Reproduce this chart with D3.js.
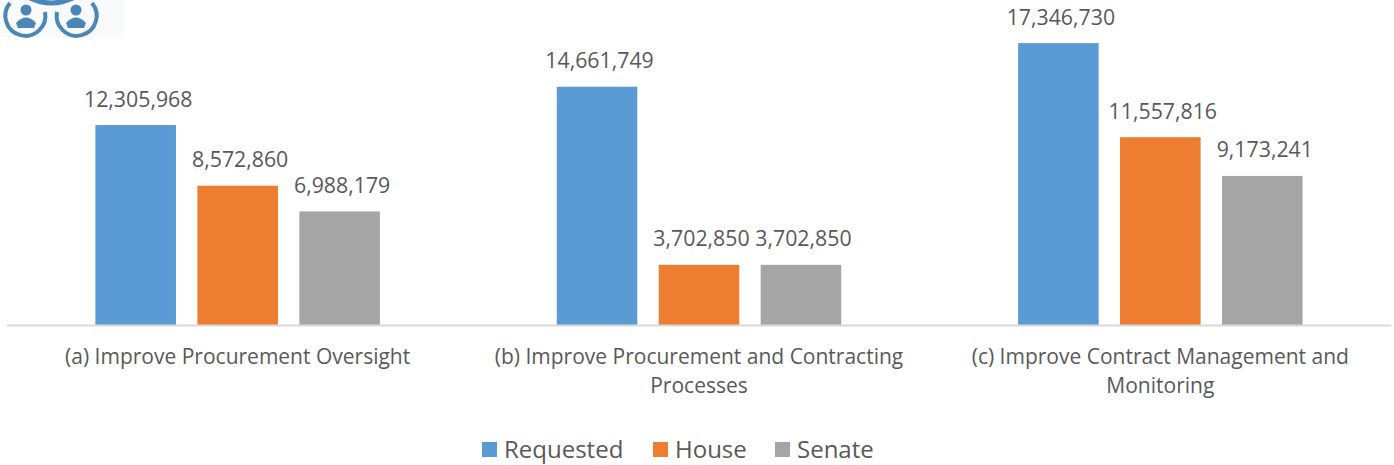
<!DOCTYPE html>
<html>
<head>
<meta charset="utf-8">
<style>
  html, body { margin: 0; padding: 0; background: #fff; }
  svg { display: block; }
  text { font-family: "Open Sans", sans-serif; fill: #595959; }
</style>
</head>
<body>
<div id="chart"></div>
<script src="https://cdn.jsdelivr.net/npm/d3@7"></script>
<script>
var categories = [
    ['(a) Improve Procurement Oversight'],
    ['(b) Improve Procurement and Contracting', 'Processes'],
    ['(c) Improve Contract Management and', 'Monitoring']
];
var seriesNames = ['Requested', 'House', 'Senate'];
var requested = [12305968, 14661749, 17346730];
var house = [8572860, 3702850, 11557816];
var senate = [6988179, 3702850, 9173241];
var seriesValues = [requested, house, senate];
var colors = ['#5b9bd5', '#ed7d31', '#a5a5a5'];

var svgWidth = 1394,
    svgHeight = 465,
    baseline = 325,
    groupWidth = 284.5;

var svg = d3.select('#chart').append('svg')
    .attr('width', svgWidth)
    .attr('height', svgHeight);

var x0 = d3.scaleBand()
    .domain(d3.range(categories.length))
    .range([7, 1391]);

var x1 = d3.scaleBand()
    .domain(seriesNames)
    .range([0, groupWidth])
    .paddingInner(0.21)
    .paddingOuter(0);

var y = d3.scaleLinear()
    .domain([0, 20000000])
    .range([baseline, 0]);

var fmt = d3.format(',');

drawLogo(svg);

// groups of bars
var groups = svg.selectAll('.group')
    .data(categories)
    .enter().append('g')
    .attr('class', 'group')
    .attr('transform', function (d, i) {
        return 'translate(' + (x0(i) + x0.bandwidth() / 2 - groupWidth / 2) + ',0)';
    });

seriesNames.forEach(function (name, s) {
    groups.append('rect')
        .attr('x', x1(name))
        .attr('y', function (d, i) { return y(seriesValues[s][i]); })
        .attr('width', x1.bandwidth())
        .attr('height', function (d, i) { return baseline - y(seriesValues[s][i]); })
        .attr('fill', colors[s]);

    groups.append('text')
        .attr('x', x1(name) + x1.bandwidth() / 2 + 2.5)
        .attr('y', function (d, i) { return y(seriesValues[s][i]) - 18.5; })
        .attr('text-anchor', 'middle')
        .style('font-size', '21.3px')
        .text(function (d, i) { return fmt(seriesValues[s][i]); });
});

// axis line
svg.append('line')
    .attr('x1', 7)
    .attr('x2', 1391)
    .attr('y1', baseline + 0.5)
    .attr('y2', baseline + 0.5)
    .attr('stroke', '#d9d9d9')
    .attr('stroke-width', 2);

// category labels
var labels = svg.selectAll('.cat')
    .data(categories)
    .enter().append('text')
    .attr('class', 'cat')
    .attr('text-anchor', 'middle')
    .style('font-size', '21px');

labels.selectAll('tspan')
    .data(function (d, i) {
        return d.map(function (t) { return { t: t, i: i }; });
    })
    .enter().append('tspan')
    .attr('x', function (d) { return x0(d.i) + x0.bandwidth() / 2; })
    .attr('y', function (d, j) { return 364 + j * 29; })
    .text(function (d) { return d.t; });

// legend
var legendX = [482, 653, 775];
var legend = svg.selectAll('.legend')
    .data(seriesNames)
    .enter().append('g')
    .attr('class', 'legend')
    .attr('transform', function (d, i) { return 'translate(' + legendX[i] + ',442)'; });

legend.append('rect')
    .attr('width', 15)
    .attr('height', 15)
    .attr('fill', function (d, i) { return colors[i]; });

legend.append('text')
    .attr('x', 22)
    .attr('y', 16)
    .style('font-size', '24px')
    .text(function (d) { return d; });

// cropped logo in the top left corner
function drawLogo(svg) {
    var logo = svg.append('g');
    var blue = '#4a86b8';
    logo.append('rect')
        .attr('width', 124)
        .attr('height', 37)
        .attr('fill', '#f8fafc');
    logo.append('path')
        .attr('d', 'M28,-3 Q51,9 75,-3')
        .attr('fill', 'none')
        .attr('stroke', blue)
        .attr('stroke-width', 5);
    [[26, 'M45,12 A20,20 0 1 1 10,3'], [76, 'M57,12 A20,20 0 1 0 92,3']].forEach(function (p) {
        logo.append('path')
            .attr('d', p[1])
            .attr('fill', 'none')
            .attr('stroke', blue)
            .attr('stroke-width', 4);
        logo.append('circle')
            .attr('cx', p[0])
            .attr('cy', 10)
            .attr('r', 5.5)
            .attr('fill', blue);
        logo.append('path')
            .attr('d', 'M' + (p[0] - 10) + ',23 Q' + p[0] + ',12 ' + (p[0] + 10) + ',23 L' + (p[0] + 8) + ',28 L' + (p[0] - 8) + ',28 Z')
            .attr('fill', blue);
    });
}
</script>
</body>
</html>
